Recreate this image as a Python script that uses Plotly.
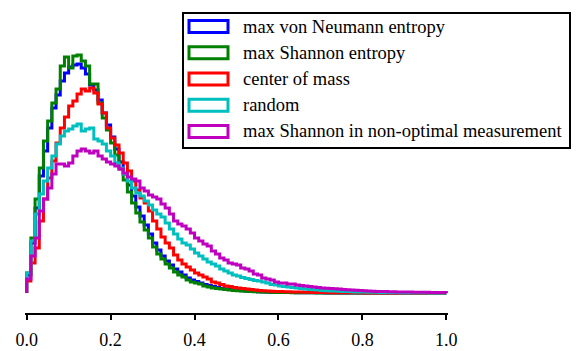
import numpy as np
import plotly.graph_objects as go

# histogram heights per bin (100 bins of width 0.01 on [0, 1])
names = [
    "max von Neumann entropy",
    "max Shannon entropy",
    "center of mass",
    "random",
    "max Shannon in non-optimal measurement",
]
colors = ["#0000ff", "#008000", "#ff0000", "#00bfbf", "#bf00bf"]

von_neumann = [
    18, 50, 85, 117, 142, 165, 185, 198, 212, 220,
    226, 228, 229, 225, 219, 208, 203, 193, 180, 168,
    156, 144, 131, 119, 108, 97, 86, 77, 68, 59,
    50, 43, 37, 32, 28, 24, 21, 18, 15, 13,
    11.5, 10, 8.5, 7.5, 6.5, 5.5, 4.5, 4, 3.5, 3,
    2.6, 2.3, 2, 1.7, 1.5, 1.3, 1.1, 0.9, 0.8, 0.7,
    0.6, 0.5, 0.45, 0.4, 0.35, 0.3, 0.25, 0.2, 0.2, 0.15,
    0.15, 0.1, 0.1, 0.1, 0.05, 0.05, 0.05, 0.05, 0, 0,
    0, 0, 0, 0, 0, 0, 0, 0, 0, 0,
    0, 0, 0, 0, 0, 0, 0, 0, 0, 0,
]
shannon = [
    20, 55, 94, 125, 152, 172, 190, 204, 227, 236,
    225, 237, 238, 232, 227, 209, 209, 190, 175, 163,
    150, 138, 124, 113, 101, 90, 80, 71, 63, 55,
    46, 39, 34, 29, 25, 21, 18, 16, 13, 11,
    10, 9, 7, 6, 5, 4.5, 4, 3.5, 3, 2.5,
    2.2, 2, 1.7, 1.5, 1.3, 1.1, 1, 0.8, 0.7, 0.6,
    0.5, 0.4, 0.4, 0.3, 0.3, 0.25, 0.2, 0.2, 0.15, 0.1,
    0.1, 0.1, 0.05, 0.05, 0.05, 0, 0, 0, 0, 0,
    0, 0, 0, 0, 0, 0, 0, 0, 0, 0,
    0, 0, 0, 0, 0, 0, 0, 0, 0, 0,
]
center_of_mass = [
    12, 30, 45, 72, 94, 115, 132, 150, 165, 176,
    187, 192, 199, 204, 202, 205, 200, 189, 180, 165,
    155, 148, 140, 130, 122, 112, 103, 95, 90, 82,
    72, 64, 56, 50, 45, 38, 33, 29, 26, 23,
    20, 18, 16, 14, 11, 10, 8.5, 7, 6.5, 5.5,
    5, 4.5, 4, 3.5, 3, 2.5, 2.2, 2, 1.8, 1.6,
    1.5, 1.3, 1.2, 1.1, 1, 0.9, 0.8, 0.7, 0.6, 0.5,
    0.45, 0.4, 0.35, 0.3, 0.3, 0.25, 0.2, 0.2, 0.15, 0.15,
    0.1, 0.1, 0.1, 0.05, 0.05, 0.05, 0, 0, 0, 0,
    0, 0, 0, 0, 0, 0, 0, 0, 0, 0,
]
random_meas = [
    20, 52, 79, 99, 112, 125, 137, 149, 157, 162,
    164, 167, 169, 162, 164, 165, 154, 152, 149, 142,
    137, 130, 125, 119, 112, 105, 100, 97, 92, 88,
    83, 79, 76, 70, 64, 59, 54, 50, 48, 44,
    40, 37, 34, 31, 29, 27, 24, 22, 20, 18,
    17, 15.5, 14.5, 13.5, 12.5, 12, 11, 10, 8.5, 8,
    7, 6.5, 6, 5.5, 5, 4.5, 4, 3.6, 3.2, 2.9,
    2.6, 2.3, 2.1, 1.9, 1.7, 1.5, 1.4, 1.2, 1.1, 1,
    0.9, 0.8, 0.7, 0.7, 0.6, 0.5, 0.5, 0.4, 0.4, 0.3,
    0.3, 0.3, 0.2, 0.2, 0.2, 0.2, 0.1, 0.1, 0.1, 0.1,
]
non_optimal = [
    14, 37, 55, 82, 94, 105, 119, 129, 129, 127,
    130, 137, 142, 144, 142, 140, 142, 137, 134, 131,
    129, 127, 124, 120, 116, 114, 112, 105, 102, 98,
    96, 94, 89, 85, 79, 72, 69, 67, 64, 60,
    55, 52, 49, 47, 42, 39, 35, 33, 30, 29,
    28, 25, 24, 22, 19, 18, 15, 14, 13, 11,
    10, 10, 9, 9, 8, 7.5, 7, 6.5, 6, 5.5,
    5, 4.8, 4.5, 4.2, 4, 3.6, 3.3, 3, 2.7, 2.4,
    2.2, 2, 1.8, 1.6, 1.5, 1.4, 1.3, 1.2, 1.1, 1,
    0.9, 0.9, 0.8, 0.8, 0.7, 0.7, 0.6, 0.6, 0.5, 0.5,
]
series = [von_neumann, shannon, center_of_mass, random_meas, non_optimal]

tick_vals = [0.0, 0.2, 0.4, 0.6, 0.8, 1.0]
tick_text = ["0.0", "0.2", "0.4", "0.6", "0.8", "1.0"]

edges = np.linspace(0, 1, 101)

fig = go.Figure()
for name, col, vals in zip(names, colors, series):
    # step outline: up from 0 at the left edge, down to 0 at the right edge
    xs = np.concatenate([[0.0], edges[:-1], [1.0]])
    ys = np.concatenate([[0.0], vals, [0.0]])
    fig.add_trace(go.Scatter(
        x=xs, y=ys, mode="lines", name=name,
        line=dict(color=col, width=3, shape="hv"),
        showlegend=False, hoverinfo="skip",
    ))

# the page body has an 8px margin, so the figure sits at (8, 8) in the window
off = 8
W, H = 574, 343
plot_left, plot_top, plot_w, plot_h = 25, 13, 423, 300   # window pixels
ml, mt = plot_left - off, plot_top - off
mr = W - ml - plot_w
mb = H - mt - plot_h


def px(x):
    return (x - plot_left) / plot_w


def py(y):
    return (plot_top + plot_h - y) / plot_h


serif = "Liberation Serif"

# legend drawn by hand: outlined boxes like the original
fig.add_shape(type="rect", xref="paper", yref="paper",
              x0=px(183), x1=px(570), y0=py(148), y1=py(13),
              line=dict(color="black", width=2), fillcolor="white", layer="above")
row_y = [26.5, 52.8, 79, 105.2, 131.4]
for name, col, ry in zip(names, colors, row_y):
    fig.add_shape(type="rect", xref="paper", yref="paper",
                  x0=px(189), x1=px(228), y0=py(ry + 6), y1=py(ry - 6),
                  line=dict(color=col, width=3), fillcolor="white", layer="above")
    fig.add_annotation(x=px(241), y=py(ry), xref="paper", yref="paper",
                       text=name, showarrow=False, xanchor="left", yanchor="middle",
                       font=dict(family=serif, size=18.5, color="black"))

fig.update_layout(
    width=W, height=H,
    margin=dict(l=ml, r=mr, t=mt, b=mb, autoexpand=False),
    plot_bgcolor="white",
    paper_bgcolor="white",
    showlegend=False,
    xaxis=dict(
        range=[-0.004, 1.004],
        showgrid=False, zeroline=False, automargin=False,
        showline=True, linecolor="black", linewidth=2,
        ticks="outside", ticklen=5, tickwidth=2, tickcolor="black",
        tickvals=tick_vals, ticktext=tick_text,
        tickfont=dict(family=serif, size=18, color="black"),
        ticklabelstandoff=4,
    ),
    yaxis=dict(range=[-20, 280], visible=False, showgrid=False, zeroline=False),
)

fig.write_html("out.html")
